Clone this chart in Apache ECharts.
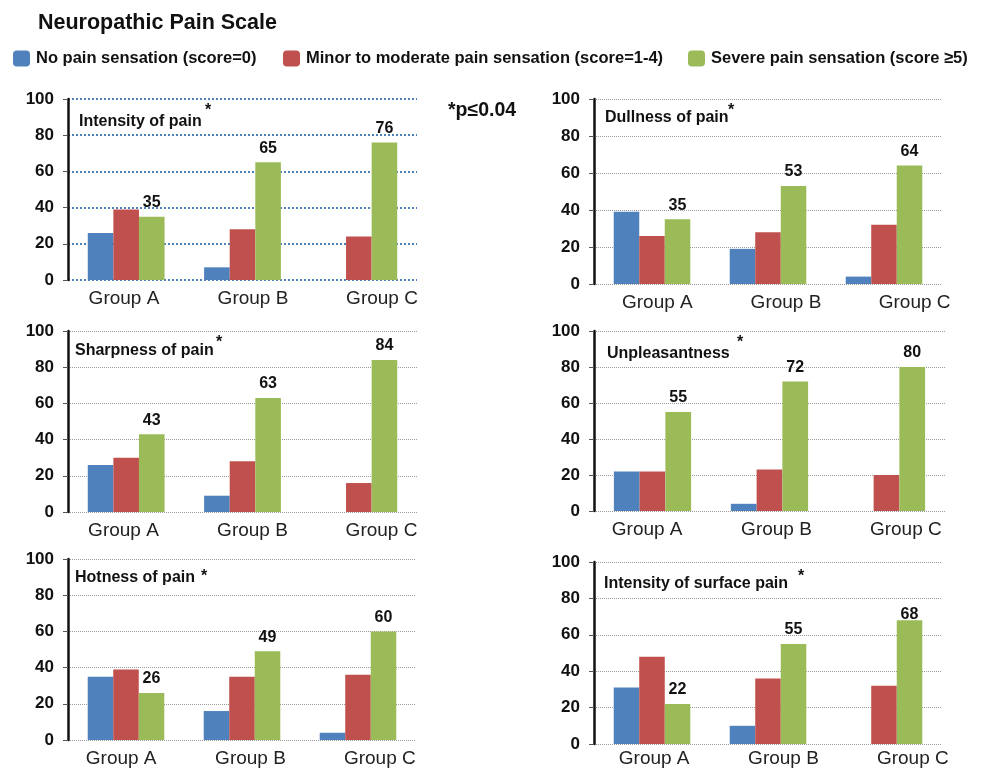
<!DOCTYPE html>
<html>
<head>
<meta charset="utf-8">
<script src="https://cdn.jsdelivr.net/npm/echarts@6/dist/echarts.min.js"></script>
<style>
html,body{margin:0;padding:0;background:#fff;}
#chart{width:981px;height:768px;}
</style>
</head>
<body>
<div id="chart"></div>
<script>
// ---- data ----
var categories = ['Group A', 'Group B', 'Group C'];
var seriesNames = ['No pain sensation (score=0)', 'Minor to moderate pain sensation (score=1-4)', 'Severe pain sensation (score \u22655)'];
var panelTitles = ['Intensity of pain', 'Dullness of pain', 'Sharpness of pain', 'Unpleasantness', 'Hotness of pain', 'Intensity of surface pain'];
var noPain   = [[26, 7, 0], [39, 19, 4], [26, 9, 0], [22, 4, 0], [35, 16, 4], [31, 10, 0]];
var minorPain = [[39, 28, 24], [26, 28, 32], [30, 28, 16], [22, 23, 20], [39, 35, 36], [48, 36, 32]];
var severePain = [[35, 65, 76], [35, 53, 64], [43, 63, 84], [55, 72, 80], [26, 49, 60], [22, 55, 68]];
var yTicks = [0, 20, 40, 60, 80, 100];
var mainTitle = 'Neuropathic Pain Scale';
var pNote = '*p\u22640.04';

// ---- layout ----
var FONT = '"Liberation Sans", Arial, Helvetica, sans-serif';
var colors = ['#4f81bd', '#c0504d', '#9bbb59'];
var grids = [
  {left: 68, top: 99, width: 349, height: 181},
  {left: 594, top: 99, width: 348, height: 185},
  {left: 68, top: 331, width: 349, height: 181},
  {left: 594, top: 331, width: 351, height: 180},
  {left: 68, top: 559, width: 348, height: 181},
  {left: 594, top: 562, width: 348, height: 182}
];
// category labels in the reference are spread wider than the bar groups
var labelBands = [
  {left: 59.5, width: 387, margin: 9},
  {left: 593, width: 386, margin: 9},
  {left: 59, width: 387, margin: 9},
  {left: 582.5, width: 388, margin: 9},
  {left: 56.5, width: 388, margin: 9},
  {left: 589.5, width: 388, margin: 7}
];
var labelPos = [
  {x: 79, y: 122, sx: 205, sy: 111},
  {x: 605, y: 118, sx: 728, sy: 111},
  {x: 75, y: 351, sx: 216, sy: 343},
  {x: 607, y: 354, sx: 737, sy: 343},
  {x: 75, y: 578, sx: 201, sy: 577},
  {x: 604, y: 584, sx: 798, sy: 577}
];
var labelDistanceOverride = {'5-2': -2};
var legendLeft = [13, 283, 688];

var chart = echarts.init(document.getElementById('chart'), null, {renderer: 'canvas'});

var gridList = [], xAxes = [], yAxes = [], series = [], graphics = [];
grids.forEach(function (g, i) {
  gridList.push(g);
  var gridColor = i === 0 ? '#4f81bd' : '#9a9a9a';
  var gridWidth = i === 0 ? 2 : 1;
  xAxes.push({
    type: 'category', gridIndex: i, data: categories,
    axisLine: {show: false}, axisTick: {show: false}, axisLabel: {show: false}
  });
  yAxes.push({
    type: 'value', gridIndex: i, min: yTicks[0], max: yTicks[yTicks.length - 1], interval: yTicks[1] - yTicks[0],
    axisLine: {show: true, lineStyle: {color: '#111', width: 2.5}},
    axisTick: {show: true, length: 5, lineStyle: {color: '#555', width: 1}},
    axisLabel: {color: '#111', fontFamily: FONT, fontSize: 17, fontWeight: 'bold', margin: 14},
    splitLine: {show: true, lineStyle: {color: gridColor, width: gridWidth, type: 'dotted'}}
  });
  var dataSets = [noPain[i], minorPain[i], severePain[i]];
  dataSets.forEach(function (d, k) {
    var items = d.map(function (v, j) {
      var key = i + '-' + j;
      if (k === 2 && labelDistanceOverride[key] !== undefined) {
        return {value: v, label: {distance: labelDistanceOverride[key]}};
      }
      return v;
    });
    series.push({
      type: 'bar', name: seriesNames[k], xAxisIndex: i, yAxisIndex: i, data: items,
      barGap: '0%', barCategoryGap: '34%',
      itemStyle: {color: colors[k]},
      label: k === 2 ? {show: true, position: 'top', distance: 6, color: '#111', fontFamily: FONT, fontSize: 16, fontWeight: 'bold'} : {show: false},
      emphasis: {disabled: true}, animation: false
    });
  });
  var lp = labelPos[i];
  graphics.push({type: 'text', x: lp.x, y: lp.y, style: {text: panelTitles[i], font: 'bold 16px ' + FONT, fill: '#111', verticalAlign: 'middle'}});
  graphics.push({type: 'text', x: lp.sx, y: lp.sy, style: {text: '*', font: 'bold 16px ' + FONT, fill: '#111', verticalAlign: 'middle'}});
});

// label-only grids for category names
labelBands.forEach(function (b, i) {
  var gi = gridList.length;
  gridList.push({left: b.left, width: b.width, top: grids[i].top, height: grids[i].height});
  xAxes.push({
    type: 'category', gridIndex: gi, data: categories,
    axisLine: {show: false}, axisTick: {show: false}, splitLine: {show: false},
    axisLabel: {color: '#222', fontFamily: FONT, fontSize: 19, margin: b.margin}
  });
  yAxes.push({type: 'value', gridIndex: gi, show: false, min: 0, max: 100, splitLine: {show: false}});
});

graphics.push({type: 'text', x: 38, y: 23, style: {text: mainTitle, font: 'bold 21.5px ' + FONT, fill: '#111', verticalAlign: 'middle'}});
graphics.push({type: 'text', x: 448, y: 111, style: {text: pNote, font: 'bold 19.5px ' + FONT, fill: '#111', verticalAlign: 'middle'}});

var legends = seriesNames.map(function (n, k) {
  return {
    data: [n], left: legendLeft[k], top: 50, padding: 0,
    itemWidth: 17, itemHeight: 16, itemGap: 0,
    icon: 'roundRect', selectedMode: false,
    textStyle: {color: '#111', fontFamily: FONT, fontSize: 16.5, fontWeight: 'bold', padding: [0, 0, 0, 1]}
  };
});

chart.setOption({
  animation: false,
  grid: gridList,
  xAxis: xAxes,
  yAxis: yAxes,
  legend: legends,
  series: series,
  graphic: graphics
});
</script>
</body>
</html>
